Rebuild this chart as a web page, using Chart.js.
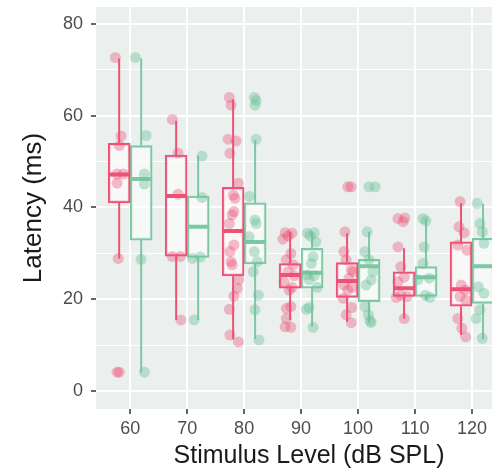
<!DOCTYPE html>
<html>
<head>
<meta charset="utf-8">
<script src="https://cdn.jsdelivr.net/npm/chart.js@4.4.1/dist/chart.umd.min.js"></script>
<style>
html, body { margin: 0; padding: 0; background: #fff; overflow: hidden; }
#wrap { width: 530px; height: 476px; }
</style>
</head>
<body>
<div id="wrap"><canvas id="myChart"></canvas></div>
<script>
// stimulus levels (dB SPL)
const levels = [60, 70, 80, 90, 100, 110, 120];
const yTicks = [0, 20, 40, 60, 80];
const yMinor = [10, 30, 50, 70];

// box stats: [lower whisker, q1, median, q3, upper whisker]
const pinkBoxes = [
  [28.9, 41.0, 47.2, 54.0, 72.5],
  [15.5, 29.4, 42.5, 51.4, 58.9],
  [11.3, 25.1, 34.9, 44.4, 63.6],
  [15.5, 22.4, 25.3, 27.8, 34.7],
  [15.1, 20.4, 24.0, 28.0, 34.4],
  [15.8, 20.6, 22.4, 26.0, 31.1],
  [12.2, 18.5, 22.2, 32.5, 40.9]
];
const greenBoxes = [
  [4.1, 32.9, 46.2, 53.5, 72.5],
  [15.5, 29.1, 35.8, 42.5, 51.2],
  [11.3, 27.7, 32.5, 41.0, 54.7],
  [14.0, 22.4, 25.8, 31.1, 34.7],
  [14.9, 19.5, 27.2, 28.7, 34.7],
  [19.8, 20.6, 24.8, 27.1, 37.6],
  [11.3, 19.1, 27.2, 33.3, 40.8]
];

// individual (jittered) observations: [x, latency]
const pinkPoints = [
  [57.4,72.7],[58.4,55.6],[58.1,53.5],[57.7,47.3],[58.8,47.3],[57.7,45.3],[57.9,28.9],[57.7,4.1],[58.1,4.1],
  [67.4,59.2],[68.4,51.9],[68.4,42.9],[67.4,29.3],[68.8,29.3],[68.9,15.5],
  [77.4,64.0],[77.7,62.3],[77.2,54.9],[78.6,54.5],[77.5,51.8],[79.0,45.3],[78.1,42.7],[78.4,42.0],[78.2,39.1],
  [77.9,38.4],[77.4,36.5],[78.2,31.8],[77.5,30.4],[77.7,28.2],[77.9,27.5],[79.1,24.3],[78.8,22.4],[78.2,20.7],
  [77.4,17.8],[77.5,12.2],[79.0,10.7],
  [87.2,34.5],[88.4,34.4],[87.7,33.8],[86.8,33.1],[88.2,30.0],[87.4,28.6],[88.6,27.5],[87.7,26.0],[88.8,25.1],
  [87.0,23.8],[88.4,22.6],[87.9,22.0],[88.2,18.4],[87.4,18.0],[87.4,15.8],[87.2,14.0],[88.2,13.9],
  [97.7,34.7],[97.5,30.4],[97.9,28.6],[98.8,26.4],[99.1,26.0],[98.4,24.6],[97.5,23.1],[98.9,22.6],[98.2,22.0],
  [97.4,20.2],[98.9,18.2],[97.9,16.6],[98.8,14.9],[98.2,44.5],[98.8,44.5],
  [107.0,37.6],[108.2,37.7],[107.9,36.9],[107.0,31.4],[107.5,27.1],[108.1,24.8],[107.0,23.8],[107.5,20.9],
  [108.6,20.6],[106.7,20.4],[108.1,15.8],
  [117.9,41.3],[117.7,35.8],[118.6,34.5],[117.5,31.8],[119.1,30.7],[118.1,23.1],[118.8,22.0],[117.9,20.6],
  [118.9,19.8],[117.5,15.8],[118.2,13.7],[118.9,11.8]
];
const greenPoints = [
  [60.9,72.7],[62.8,55.7],[62.5,47.3],[62.5,45.1],[61.9,28.7],[62.5,4.1],
  [72.6,51.2],[72.6,42.2],[70.9,28.9],[72.3,29.2],[71.2,15.5],
  [81.8,64.0],[82.1,63.3],[81.9,62.3],[82.1,54.9],[80.9,42.4],[81.9,37.3],[82.1,36.5],[80.9,33.6],[81.8,30.4],
  [82.3,28.2],[81.6,26.0],[82.5,20.9],[81.9,17.7],[82.6,11.1],
  [91.1,34.4],[92.3,34.5],[91.6,33.8],[92.6,32.5],[92.1,29.3],[91.8,27.8],[91.1,25.3],[92.3,25.1],[91.4,24.3],
  [92.8,22.6],[91.4,18.2],[90.9,17.8],[92.1,13.9],
  [101.6,34.7],[101.2,30.4],[101.9,28.6],[102.6,26.0],[102.3,24.2],[101.4,23.1],[101.2,18.4],[101.8,16.6],
  [102.1,15.3],[102.3,14.9],[101.9,44.5],[103.0,44.5],
  [111.4,37.6],[111.9,37.1],[111.6,31.4],[111.4,27.8],[112.5,24.6],[110.5,24.2],[111.8,20.9],[112.6,20.4],
  [120.9,40.9],[121.4,36.5],[121.8,34.7],[122.1,32.2],[121.1,22.7],[122.1,21.3],[121.4,17.7],[120.7,15.8],[121.8,11.5]
];

const PINK = '#EC5276';
const GREEN = '#7CC8A3';
const DODGE = 1.93;

function boxes(stats, shift) {
  return levels.map((l, i) => ({ x: l + shift, y: [stats[i][1], stats[i][3]] }));
}
function whiskers(stats, shift) {
  let out = [];
  levels.forEach((l, i) => {
    let x = l + shift, s = stats[i];
    out.push({x: x, y: s[0]}, {x: x, y: s[1]}, {x: x, y: null},
             {x: x, y: s[3]}, {x: x, y: s[4]}, {x: x, y: null});
  });
  return out;
}
function medians(stats, shift) {
  let out = [];
  levels.forEach((l, i) => {
    let x = l + shift;
    out.push({x: x - DODGE, y: stats[i][2]}, {x: x + DODGE, y: stats[i][2]}, {x: x, y: null});
  });
  return out;
}
function pts(list) {
  return list.map(p => ({ x: p[0], y: p[1] }));
}

const panelBg = {
  id: 'panelBg',
  beforeDraw(chart) {
    const {ctx, chartArea: a} = chart;
    ctx.save();
    ctx.fillStyle = '#EBF0EF';
    ctx.fillRect(a.left, a.top, a.right - a.left, a.bottom - a.top);
    ctx.restore();
  }
};

const boxStyle = (c) => ({
  type: 'bar', borderColor: c, backgroundColor: 'rgba(255,255,255,0.6)', borderWidth: 2,
  borderSkipped: false, grouped: false, categoryPercentage: 1, barPercentage: 1, order: 4
});
const lineStyle = (c, w, o) => ({
  type: 'line', borderColor: c, borderWidth: w, pointRadius: 0, spanGaps: false, order: o
});

const ctx = document.getElementById('myChart');
new Chart(ctx, {
  type: 'scatter',
  data: {
    datasets: [
      Object.assign({ data: boxes(pinkBoxes, -DODGE) }, boxStyle(PINK)),
      Object.assign({ data: boxes(greenBoxes, DODGE) }, boxStyle(GREEN)),
      Object.assign({ data: whiskers(pinkBoxes, -DODGE) }, lineStyle(PINK, 2, 3)),
      Object.assign({ data: whiskers(greenBoxes, DODGE) }, lineStyle(GREEN, 2, 3)),
      Object.assign({ data: medians(pinkBoxes, -DODGE) }, lineStyle(PINK, 4, 2)),
      Object.assign({ data: medians(greenBoxes, DODGE) }, lineStyle(GREEN, 4, 2)),
      { type: 'scatter', data: pts(pinkPoints), pointRadius: 5.5, borderWidth: 0,
        backgroundColor: 'rgba(236,82,118,0.38)', order: 1 },
      { type: 'scatter', data: pts(greenPoints), pointRadius: 5.5, borderWidth: 0,
        backgroundColor: 'rgba(110,194,152,0.42)', order: 1 }
    ]
  },
  options: {
    responsive: true,
    maintainAspectRatio: false,
    animation: false,
    layout: { padding: { top: 7, left: 0, right: 8, bottom: 0 } },
    plugins: { legend: { display: false }, tooltip: { enabled: false } },
    scales: {
      x: {
        type: 'linear', min: 54, max: 128.77, offset: false,
        afterBuildTicks: (s) => { s.ticks = levels.map(v => ({ value: v })); },
        afterFit: (s) => { s.height = 67; s.paddingLeft = 0; s.paddingRight = 0; },
        grid: { offset: false, color: '#ffffff', lineWidth: 2, tickColor: '#333333', tickLength: 5, tickWidth: 1.5 },
        border: { display: false },
        ticks: { color: '#4D4D4D', font: { family: 'Liberation Sans', size: 18 }, padding: 4, maxRotation: 0 },
        title: { display: true, text: 'Stimulus Level (dB SPL)', color: '#1A1A1A',
                 font: { family: 'Liberation Sans', size: 25 }, padding: { top: 0, bottom: 5 } }
      },
      y: {
        min: -3.92, max: 83.7,
        afterBuildTicks: (s) => {
          s.ticks = yTicks.concat(yMinor).sort((a, b) => a - b).map(v => ({ value: v }));
        },
        afterFit: (s) => { s.width = 96; s.paddingTop = 0; s.paddingBottom = 0; },
        grid: {
          color: '#ffffff',
          lineWidth: (c) => yTicks.includes(c.tick.value) ? 2 : 1,
          tickColor: (c) => yTicks.includes(c.tick.value) ? '#333333' : 'rgba(0,0,0,0)',
          tickLength: 5, tickWidth: 1.5
        },
        border: { display: false },
        ticks: {
          color: '#4D4D4D', font: { family: 'Liberation Sans', size: 18 }, padding: 8,
          callback: (v) => yTicks.includes(v) ? String(v) : ''
        },
        title: { display: true, text: 'Latency (ms)', color: '#1A1A1A',
                 font: { family: 'Liberation Sans', size: 26 }, padding: { top: 18, bottom: 0 } }
      }
    }
  },
  plugins: [panelBg]
});
</script>
</body>
</html>
